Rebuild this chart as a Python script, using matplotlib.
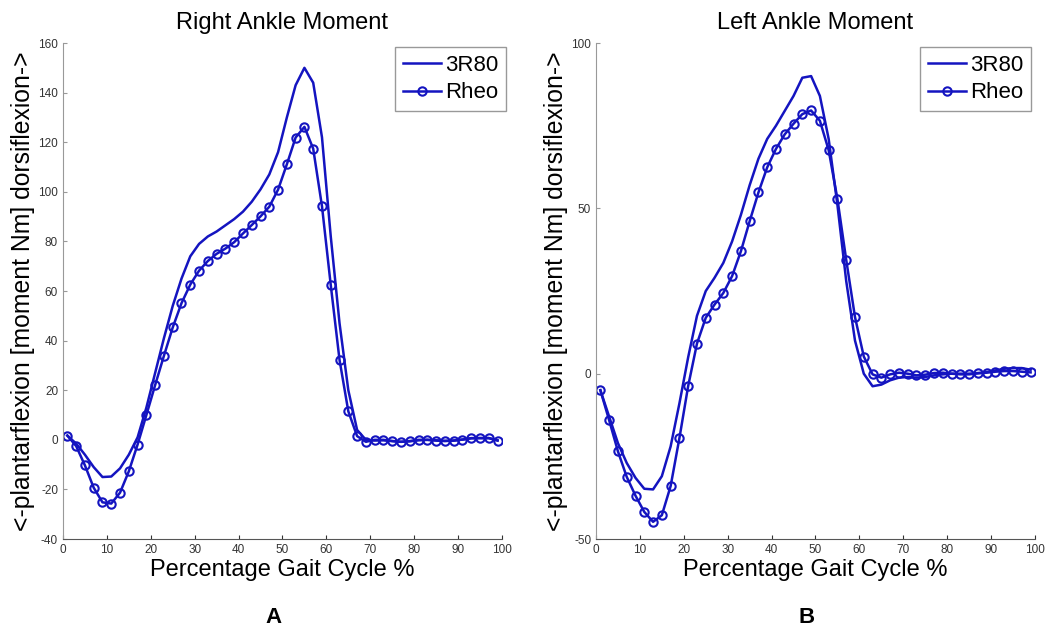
import numpy as np
import matplotlib
matplotlib.use("Agg")
import matplotlib.pyplot as plt

plt.rcParams['font.family'] = ['Liberation Sans', 'DejaVu Sans']
plt.rcParams['axes.unicode_minus'] = False

# gait cycle points (odd percentages)
pct = list(range(1, 100, 2))

# Right ankle
right_3r80 = [1.7, -1.5, -6, -11, -15, -14.8, -11.5, -6, 1, 13,
              27, 41, 54, 65, 74, 79, 82, 84, 86.5, 89,
              92, 96, 101, 107, 116, 130, 143, 150, 144, 122,
              82, 47, 20, 4, 0, -0.3, -0.2, -0.5, -0.8, -0.6,
              -0.2, 0, -0.2, -0.4, -0.3, 0.1, 0.6, 0.7, 0.7, -0.2]
right_rheo = [1.7, -2.5, -10.3, -19.3, -25.2, -25.7, -21.3, -12.7, -1.9, 10,
              22.1, 33.9, 45.3, 55.1, 62.6, 68.2, 72.1, 75.0, 77.1, 79.7,
              83.2, 86.6, 90.1, 94.0, 100.9, 111.1, 121.9, 126.2, 117.4, 94.2,
              62.4, 32.2, 11.5, 1.5, -0.8, 0, 0, -0.5, -0.8, -0.5,
              0, 0, -0.3, -0.5, -0.3, 0.1, 0.7, 0.7, 0.7, -0.3]

# Left ankle
left_3r80 = [-5, -13, -21, -27, -31.5, -34.8, -35, -31, -22, -9,
             5, 17.5, 25, 29, 33.5, 40, 48, 57, 65, 71,
             75, 79.5, 84, 89.5, 90, 84, 71, 51, 28, 10,
             0, -3.8, -3.3, -2, -1.2, -1, -1.2, -1, -0.5, -0.2,
             0, 0, 0, 0.2, 0.5, 1, 1.5, 1.7, 1.7, 1.2]
left_rheo = [-5.0, -14.1, -23.5, -31.2, -36.9, -41.8, -44.8, -42.8, -34.0, -19.5,
             -3.7, 9.1, 16.9, 20.9, 24.4, 29.5, 37.0, 46.1, 54.8, 62.4,
             68.0, 72.4, 75.6, 78.5, 79.6, 76.5, 67.6, 52.8, 34.4, 17.1,
             5.2, -0.2, -1.2, -0.2, 0.3, 0, -0.5, -0.3, 0.2, 0.3,
             0, -0.2, -0.2, 0.1, 0.3, 0.6, 0.8, 0.8, 0.6, 0.4]

blue = '#1414c0'
ylab = '<-plantarflexion [moment Nm] dorsiflexion->'

fig = plt.figure(figsize=(10.53, 6.3), dpi=100)
ax1 = fig.add_axes([0.0598, 0.1444, 0.4169, 0.7873])
ax2 = fig.add_axes([0.566, 0.1444, 0.4169, 0.7873])

panels = [
    (ax1, right_3r80, right_rheo, 'Right Ankle Moment', (-40, 160), np.arange(-40, 161, 20), 506),
    (ax2, left_3r80, left_rheo, 'Left Ankle Moment', (-50, 100), [-50, 0, 50, 100], 1031),
]

for ax, a, b, title, ylim, yt, legx in panels:
    ax.plot(pct, a, '-', color=blue, lw=1.8, label='3R80')
    ax.plot(pct, b, '-o', color=blue, lw=1.8, ms=6, mfc='none', mew=1.5, label='Rheo')
    ax.set_xlim(0, 100)
    ax.set_ylim(*ylim)
    ax.set_xticks(range(0, 101, 10))
    ax.set_yticks(yt)
    ax.spines['top'].set_visible(False)
    ax.spines['right'].set_visible(False)
    ax.spines['left'].set_color('#999999')
    ax.spines['bottom'].set_color('#555555')
    ax.tick_params(direction='in', length=3, labelsize=8.5, colors='#333333')
    ax.tick_params(axis='y', colors='#999999', labelcolor='#333333')
    ax.set_title(title, fontsize=17, pad=10)
    ax.set_xlabel('Percentage Gait Cycle %', fontsize=17, labelpad=2)
    ax.set_ylabel(ylab, fontsize=17.8, labelpad=2)
    ax.legend(loc='upper right', bbox_to_anchor=(legx / 1053, 1 - 47 / 630),
              bbox_transform=fig.transFigure, borderaxespad=0, fontsize=16,
              fancybox=False, framealpha=1, edgecolor='#999999',
              handlelength=1.7, handletextpad=0.2, borderpad=0.35, labelspacing=0.3)

fig.text(273 / 1053, 1 - 623 / 630, 'A', fontsize=16, fontweight='bold', ha='center', va='baseline')
fig.text(807 / 1053, 1 - 623 / 630, 'B', fontsize=16, fontweight='bold', ha='center', va='baseline')

fig.savefig('out.png', dpi=100)
